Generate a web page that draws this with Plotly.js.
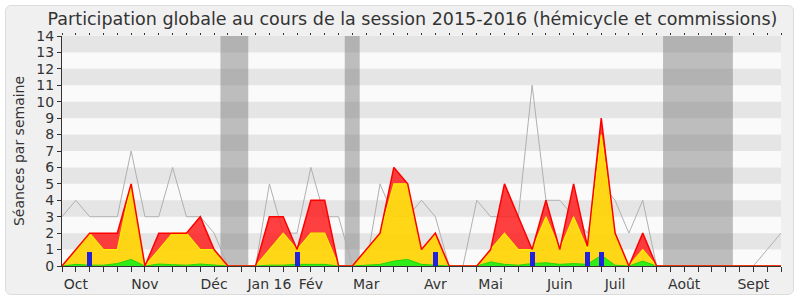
<!DOCTYPE html>
<html>
<head>
<meta charset="utf-8">
<script src="https://cdn.plot.ly/plotly-3.0.1.min.js"></script>
<style>
  html, body { margin: 0; padding: 0; background: #ffffff; }
  #wrap { position: relative; width: 800px; height: 300px; }
  #frame { position: absolute; left: 5px; top: 5px; width: 787px; height: 288px;
           background: #f0f0f0; border: 1px solid #dcdcdc; border-radius: 6px; }
  #chart { position: absolute; left: 0; top: 0; width: 800px; height: 300px; }
</style>
</head>
<body>
<div id="wrap"><div id="frame"></div><div id="chart"></div></div>
<script>
// Week index (0 = first week of the session)
const weeks = [0,1,2,3,4,5,6,7,8,9,10,11,12,13,14,15,16,17,18,19,20,21,22,23,24,25,26,27,28,29,30,31,32,33,34,35,36,37,38,39,40,41,42,43,44,45,46,47,48,49,50,51,52];
// Month labels on the x axis ('' = unlabeled weekly tick)
const tickLabels = ['','Oct','','','','','Nov','','','','','Déc','','','','Jan 16','','','Fév','','','','Mar','','','','','Avr','','','','Mai','','','','','Juin','','','','Juil','','','','','Août','','','','','Sept','',''];
// Grey line: maximum séances per week
const maxSeances = [3,4,3,3,3,7,3,3,6,3,3,2,0,0,0,5,2,2,6,3,3,0,0,5,3,3,4,3,0,0,4,3,3,3,11,4,4,3,2,5,4,2,4,0,0,0,0,0,0,0,0,1,2];
// Red: total participation (hémicycle + commissions)
const totalSeances = [0,1,2,2,2,5,0,2,2,2,3,1,0,0,0,3,3,1,4,4,0,0,1,2,6,5,1,2,0,0,0,1,5,3,1,4,1,5,1.2,9,2,0,2,0,0,0,0,0,0,0,0,0,0];
// Yellow: commissions
const commissionSeances = [0,1,2,1,1,5,0,1,2,2,1,1,0,0,0,1,2,1,2,2,0,0,1,2,5,5,1,2,0,0,0,1,2,1,1,3,1,3,1,8,2,0,1,0,0,0,0,0,0,0,0,0,0];
// Green: hémicycle
const hemicycleSeances = [0,0.1,0.05,0.05,0.15,0.4,0,0.12,0.08,0.05,0.12,0.05,0,0,0,0.05,0.05,0.1,0.12,0.1,0,0,0.05,0.1,0.3,0.4,0.1,0.05,0,0,0,0.25,0.1,0.05,0.15,0.2,0.1,0.15,0.1,0.65,0.05,0,0.3,0,0,0,0,0,0,0,0,0,0];
// Blue bars: weeks with questions orales
const questionWeeks = [2,17,27,34,38,39];
const questionValues = [0.87,0.87,0.87,0.87,0.87,0.87];
// Parliamentary holidays (in week units)
const vacStart = [11.46, 20.45, 43.47];
const vacEnd = [13.47, 21.53, 48.52];

const FONT = 'DejaVu Sans, Verdana, sans-serif';

const traces = [
  { x: weeks, y: maxSeances, type: 'scatter', mode: 'lines',
    line: { color: '#b0b0b0', width: 1 }, hoverinfo: 'skip' },
  { x: weeks, y: hemicycleSeances, type: 'scatter', mode: 'lines', fill: 'tozeroy',
    fillcolor: 'rgba(25,235,0,0.9)', line: { color: '#22d400', width: 1 }, hoverinfo: 'skip' },
  { x: weeks, y: commissionSeances, type: 'scatter', mode: 'lines', fill: 'tonexty',
    fillcolor: 'rgba(255,212,5,0.93)', line: { color: '#ffee00', width: 1.2 }, hoverinfo: 'skip' },
  { x: weeks, y: totalSeances, type: 'scatter', mode: 'lines', fill: 'tonexty',
    fillcolor: 'rgba(255,30,30,0.85)', line: { color: '#ff0000', width: 1.5 }, hoverinfo: 'skip' },
  { x: questionWeeks, y: questionValues, type: 'bar', xaxis: 'x2', yaxis: 'y2',
    width: 0.36, marker: { color: '#2222dd', line: { width: 0 } }, hoverinfo: 'skip' }
];

const shapes = [];
for (let k = 1; k < 14; k += 2) {
  shapes.push({ type: 'rect', xref: 'paper', yref: 'y', x0: 0, x1: 1, y0: k, y1: k + 1,
                fillcolor: '#e5e5e5', line: { width: 0 }, layer: 'below' });
}
for (let j = 0; j < vacStart.length; j++) {
  shapes.push({ type: 'rect', xref: 'x', yref: 'paper', x0: vacStart[j], x1: vacEnd[j], y0: 0, y1: 1,
                fillcolor: 'rgba(128,128,128,0.5)', line: { width: 0 }, layer: 'below' });
}

const layout = {
  width: 800, height: 300,
  margin: { l: 62, r: 19, t: 36, b: 34 },
  paper_bgcolor: 'rgba(0,0,0,0)',
  plot_bgcolor: '#fafafa',
  showlegend: false,
  hovermode: false,
  bargap: 0,
  font: { family: FONT, color: '#333333', size: 14 },
  title: { text: 'Participation globale au cours de la session 2015-2016 (hémicycle et commissions)',
           font: { family: FONT, size: 17.5, color: '#333333' },
           xref: 'container', x: 0.5156, xanchor: 'center',
           yref: 'container', y: 0.916, yanchor: 'bottom' },
  xaxis: { range: [0, 52], tickmode: 'array', tickvals: weeks, ticktext: tickLabels,
           ticks: 'outside', ticklen: 5, tickcolor: '#333333', tickwidth: 1,
           showline: true, linecolor: '#333333', linewidth: 1,
           showgrid: false, zeroline: false, fixedrange: true,
           tickfont: { family: FONT, size: 14, color: '#333333' } },
  xaxis2: { range: [0, 52], overlaying: 'x', side: 'top', anchor: 'y2',
            tickmode: 'array', tickvals: weeks, showticklabels: false,
            ticks: 'outside', ticklen: 2, tickcolor: '#333333',
            showline: false, showgrid: false, zeroline: false, fixedrange: true },
  yaxis: { range: [0, 14], dtick: 1, tick0: 0,
           ticks: 'outside', ticklen: 4, tickcolor: '#333333',
           showline: true, linecolor: '#333333', linewidth: 1,
           showgrid: false, zeroline: false, fixedrange: true,
           tickfont: { family: FONT, size: 14, color: '#333333' },
           title: { text: 'Séances par semaine', font: { family: FONT, size: 14, color: '#333333' }, standoff: 8 } },
  yaxis2: { range: [0, 14], overlaying: 'y', anchor: 'x2', visible: false, fixedrange: true },
  shapes: shapes
};

Plotly.newPlot('chart', traces, layout, { staticPlot: true, displayModeBar: false });
</script>
</body>
</html>
